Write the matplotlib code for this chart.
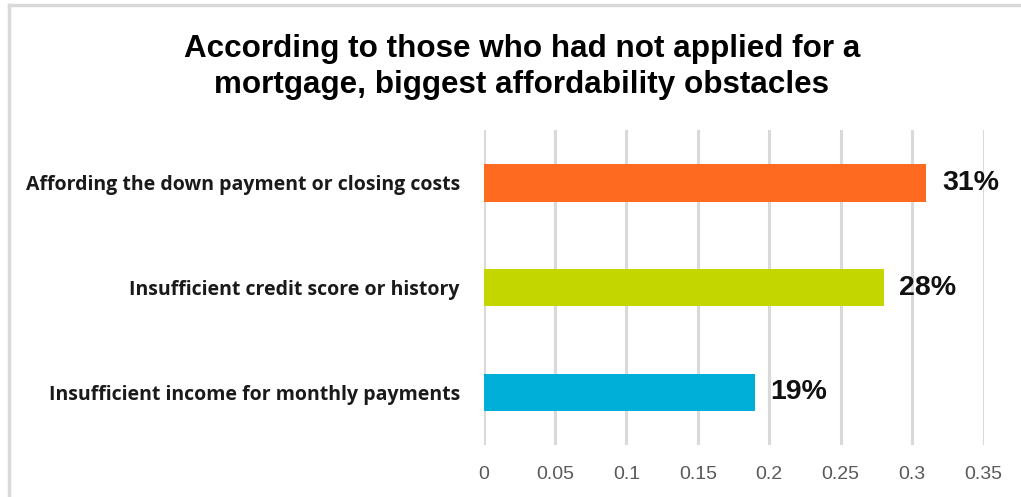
import matplotlib.pyplot as plt
from matplotlib.lines import Line2D

# data (top to bottom as shown)
categories = ["Affording the down payment or closing costs",
              "Insufficient credit score or history",
              "Insufficient income for monthly payments"]
values = [0.31, 0.28, 0.19]
labels = ["31%", "28%", "19%"]
colors = ["#FF6A21", "#C3D600", "#00AFD7"]
xticks = [0, 0.05, 0.1, 0.15, 0.2, 0.25, 0.3, 0.35]
xtick_labels = ["0", "0.05", "0.1", "0.15", "0.2", "0.25", "0.3", "0.35"]

fig = plt.figure(figsize=(10.21, 4.97), dpi=100)
ax = fig.add_axes([0.4736, 0.105, 0.4897, 0.633])

ypos = list(range(len(categories)))[::-1]
ax.barh(ypos, values, height=0.36, color=colors, zorder=3)

for y, v, lab in zip(ypos, values, labels):
    ax.text(v + 0.011, y, lab, va="center", ha="left", fontsize=20.5,
            fontweight="bold", family="Liberation Sans", color="#111111")

ax.set_xlim(0, 0.35)
ax.set_ylim(-0.5, 2.5)
ax.set_xticks(xticks)
ax.set_xticklabels(xtick_labels, fontsize=14, color="#595959", family="Liberation Sans")
ax.set_yticks(ypos)
ax.set_yticklabels(categories, fontsize=14, fontweight="bold", family="Open Sans", color="#1a1a1a")
ax.tick_params(axis="both", length=0)
ax.tick_params(axis="x", pad=15)
ax.tick_params(axis="y", pad=17)
ax.grid(axis="x", color="#D9D9D9", linewidth=2.2, zorder=0)
for s in ax.spines.values():
    s.set_visible(False)

fig.suptitle("According to those who had not applied for a\nmortgage, biggest affordability obstacles",
             x=0.511, y=0.932, fontsize=22.6, fontweight="bold", family="Liberation Sans",
             linespacing=1.28, va="top")

# light frame at top and left of the chart area
fig.add_artist(Line2D([9 / 1021, 1], [1 - 5 / 497, 1 - 5 / 497], color="#D9D9D9", linewidth=2.5,
                      transform=fig.transFigure))
fig.add_artist(Line2D([9 / 1021, 9 / 1021], [0, 1 - 5 / 497], color="#D9D9D9", linewidth=2.5,
                      transform=fig.transFigure))

fig.savefig("out.png", dpi=100)
